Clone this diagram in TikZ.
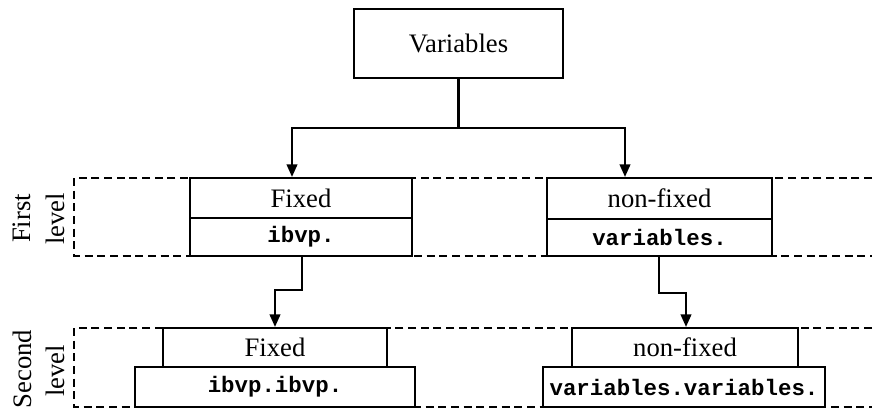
\documentclass[tikz,border=0pt]{standalone}
\usepackage{fontspec}
\setmainfont{Liberation Serif}
\setmonofont{Liberation Mono}
\usetikzlibrary{arrows.meta}
\begin{document}
\begin{tikzpicture}[x=0.75pt,y=-0.75pt,
  box/.style={draw,line width=1.6pt,fill=white,inner sep=0pt,
    font=\fontsize{20}{23}\selectfont},
  codebox/.style={box,font=\fontsize{16.8}{20}\selectfont\ttfamily\bfseries},
  band/.style={line width=1.4pt,dash pattern=on 6pt off 3.5pt},
  link/.style={line width=1.6pt,-{Triangle[length=9.5pt,width=8pt]}},
  lvl/.style={rotate=90,font=\fontsize{20}{23}\selectfont,inner sep=0pt}]
\useasboundingbox (0,0) rectangle (877,408);

% level bands, open on the right
\draw[band] (872,178) -- (74,178) -- (74,256) -- (872,256);
\draw[band] (872,328) -- (74,328) -- (74,407) -- (872,407);
\node[lvl] (l1a) at (22,218.5) {First};
\node[lvl] (l1b) at (55,219) {level};
\node[lvl] (l2a) at (22,369) {Second};
\node[lvl] (l2b) at (55,371) {level};

% root
\node[box,minimum width=209*0.75pt,minimum height=69*0.75pt] (var) at (458.5,43.5) {Variables};

% first level
\node[box,minimum width=222*0.75pt,minimum height=40*0.75pt] (fx1) at (301,198) {Fixed};
\node[codebox,minimum width=222*0.75pt,minimum height=38*0.75pt] (fx1c) at (301,237) {ibvp.};
\node[box,minimum width=225*0.75pt,minimum height=41*0.75pt] (nf1) at (659.5,198.5) {non-fixed};
\node[codebox,minimum width=225*0.75pt,minimum height=37*0.75pt] (nf1c) at (659.5,237.5) {variables.};

% second level
\node[box,minimum width=224*0.75pt,minimum height=39*0.75pt] (fx2) at (275,347.5) {Fixed};
\node[codebox,minimum width=280*0.75pt,minimum height=40*0.75pt] (fx2c) at (275,387) {ibvp.ibvp.};
\node[box,minimum width=226*0.75pt,minimum height=39*0.75pt] (nf2) at (685,347.5) {non-fixed};
\node[codebox,minimum width=282*0.75pt,minimum height=40*0.75pt] (nf2c) at (684,387) {variables.variables.};

% connectors
\coordinate (split) at (458.5,128);
\draw[line width=1.6pt] (var.south) -- (split);
\draw[link] (split) -| (fx1.north -| 292,0);
\draw[link] (split) -| (nf1.north -| 625,0);
\draw[link] (fx1c.south -| 302,0) |- (275,290) -- (fx2.north -| 275,0);
\draw[link] (nf1c.south -| 659,0) |- (686,293) -- (nf2.north -| 686,0);
\end{tikzpicture}
\end{document}
